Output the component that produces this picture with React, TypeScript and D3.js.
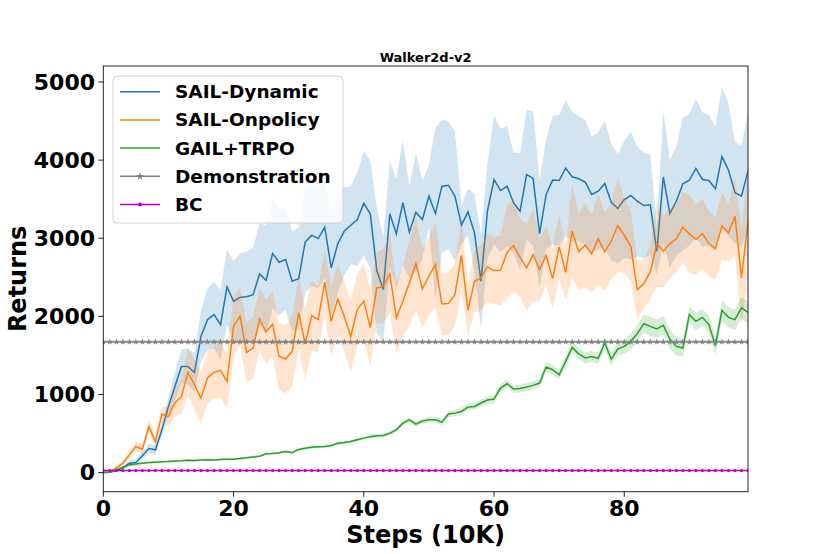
import React from 'react';
import * as d3 from 'd3';

// values (Walker2d-v2)
const blueMean = [
  0, 5, 26, 56, 120, 128, 214, 308, 291, 547, 846, 1103, 1359, 1359, 1282, 1744, 1958, 2022, 1894, 2377,
  2192, 2244, 2250, 2278, 2543, 2462, 2804, 2692, 2727, 2449, 2483, 2949, 3039, 2996, 3141, 2620, 2928, 3090, 3167, 3240,
  3445, 3313, 2586, 2342, 3313, 3056, 3454, 3077, 3333, 3240, 3538, 3316, 3667, 3679, 3538, 3167, 3338, 3069, 2449, 3355,
  3752, 3611, 3667, 3454, 3345, 3817, 3765, 3060, 3560, 3744, 3739, 3897, 3787, 3761, 3718, 3560, 3603, 3701, 3462, 3381,
  3496, 3547, 3474, 3419, 3428, 2833, 3787, 3316, 3474, 3697, 3744, 3893, 3752, 3739, 3633, 4044, 3872, 3582, 3538, 3859,
];
const blueStd = [
  0, 10, 15, 25, 35, 40, 50, 60, 60, 80, 120, 180, 220, 230, 250, 330, 400, 420, 450, 480,
  520, 560, 580, 600, 650, 700, 700, 680, 650, 640, 650, 650, 650, 640, 650, 600, 630, 560, 500, 600,
  670, 690, 800, 680, 675, 700, 800, 590, 760, 500, 400, 1100, 850, 820, 830, 250, 300, 500, 600, 610,
  830, 790, 770, 640, 750, 830, 860, 690, 700, 820, 840, 870, 830, 800, 800, 740, 750, 810, 750, 700,
  750, 820, 700, 680, 640, 300, 850, 690, 700, 850, 840, 890, 860, 840, 790, 900, 850, 650, 650, 750,
];
const orangeMean = [
  0, 8, 60, 120, 226, 333, 300, 590, 397, 748, 718, 890, 975, 1282, 1124, 953, 1210, 1282, 1308, 1167,
  1872, 2000, 1538, 1594, 1966, 1800, 1900, 1487, 1453, 1552, 2044, 1650, 2009, 1958, 2438, 1936, 2220, 2000, 1740, 2086,
  2195, 1855, 2364, 2385, 2544, 1979, 2195, 2428, 2674, 2355, 2513, 2663, 2159, 2163, 2278, 2782, 2077, 2449, 2492, 2633,
  2586, 2590, 2821, 2906, 2756, 2620, 2791, 2600, 2778, 2483, 2890, 2564, 3090, 2826, 2911, 2800, 2992, 2826, 2962, 3163,
  3038, 2897, 2342, 2419, 2569, 2928, 2833, 2932, 2992, 3141, 3056, 2983, 3060, 2932, 2868, 3154, 3069, 3282, 2492, 3218,
];
const orangeStd = [
  0, 10, 20, 30, 50, 60, 70, 80, 80, 100, 120, 180, 220, 300, 320, 330, 330, 340, 350, 360,
  380, 380, 380, 390, 400, 410, 420, 430, 440, 450, 460, 460, 450, 420, 420, 450, 450, 450, 450, 460,
  480, 500, 450, 480, 500, 450, 450, 550, 600, 500, 500, 550, 400, 400, 400, 450, 330, 400, 420, 430,
  430, 450, 600, 600, 500, 550, 600, 400, 380, 390, 400, 350, 600, 480, 540, 500, 580, 500, 490, 600,
  480, 450, 380, 310, 350, 550, 460, 450, 430, 450, 500, 450, 450, 420, 400, 430, 370, 500, 620, 700,
];
const greenMean = [
  0, 5, 35, 70, 100, 110, 120, 128, 133, 138, 142, 148, 150, 158, 155, 160, 163, 160, 168, 170,
  172, 180, 190, 200, 210, 240, 245, 255, 268, 255, 295, 310, 325, 330, 335, 345, 375, 385, 397, 420,
  441, 460, 470, 475, 505, 547, 633, 676, 620, 660, 676, 676, 646, 749, 761, 782, 838, 846, 890, 928,
  941, 1082, 1137, 1069, 1075, 1095, 1116, 1146, 1351, 1317, 1252, 1423, 1603, 1520, 1468, 1485, 1462, 1659, 1453, 1582,
  1615, 1680, 1778, 1906, 1872, 1838, 1885, 1710, 1615, 1595, 2022, 1936, 1987, 1894, 1624, 2077, 1987, 1958, 2108, 2051,
];
const greenStd = [
  0, 5, 10, 15, 15, 15, 15, 15, 15, 15, 15, 15, 15, 15, 15, 15, 15, 15, 15, 15,
  15, 15, 15, 15, 15, 15, 15, 15, 15, 15, 15, 20, 20, 20, 20, 20, 20, 20, 20, 20,
  20, 25, 25, 25, 25, 30, 30, 30, 35, 35, 35, 35, 40, 40, 40, 40, 40, 40, 45, 45,
  50, 50, 50, 50, 50, 50, 50, 50, 60, 60, 60, 70, 70, 70, 70, 70, 70, 80, 80, 80,
  90, 100, 110, 120, 120, 120, 120, 120, 120, 110, 100, 110, 110, 110, 120, 130, 130, 130, 140, 140,
];
const demoReturn = 1672;
const bcReturn = 26;

const xTicks = [0, 20, 40, 60, 80];
const yTicks = [0, 1000, 2000, 3000, 4000, 5000];

const W = 830;
const H = 554;
const left = 103.3, right = 748, top = 66, bottom = 491.7;
const font = "'DejaVu Sans', sans-serif";

const series = [
  { name: 'SAIL-Dynamic', mean: blueMean, std: blueStd, color: '#1f77b4' },
  { name: 'SAIL-Onpolicy', mean: orangeMean, std: orangeStd, color: '#ff7f0e' },
  { name: 'GAIL+TRPO', mean: greenMean, std: greenStd, color: '#2ca02c' },
];

export default function App() {
  const steps = blueMean.map((_, i) => i);
  const x = d3.scaleLinear().domain([0, 99]).range([left, right]);
  const y = d3.scaleLinear().domain([-245, 5205]).range([bottom, top]);

  const line = d3.line<number>().x((_, i) => x(i)).y(d => y(d));
  const star = d3.symbol().type(d3.symbolStar).size(14)() as string;
  const legendStar = d3.symbol().type(d3.symbolStar).size(20)() as string;

  const legendItems = [
    ...series.map(s => ({ name: s.name, color: s.color, marker: '' })),
    { name: 'Demonstration', color: '#808080', marker: 'star' },
    { name: 'BC', color: '#bf00bf', marker: 'dot' },
  ];

  return (
    <svg width={W} height={H} style={{ position: 'absolute', left: 0, top: 0, background: '#fff' }}>
      <defs>
        <clipPath id="plot">
          <rect x={left} y={top} width={right - left} height={bottom - top} />
        </clipPath>
      </defs>

      <g clipPath="url(#plot)">
        {series.map(s => {
          const area = d3.area<number>()
            .x((_, i) => x(i))
            .y0((d, i) => y(d - s.std[i]))
            .y1((d, i) => y(d + s.std[i]));
          return (
            <g key={s.name}>
              <path d={area(s.mean) || ''} fill={s.color} fillOpacity={0.2} stroke="none" />
              <path d={line(s.mean) || ''} fill="none" stroke={s.color} strokeWidth={1.5} />
            </g>
          );
        })}

        <line x1={x(0)} x2={x(99)} y1={y(demoReturn)} y2={y(demoReturn)} stroke="#808080" strokeWidth={1.5} />
        {steps.map(i => (
          <path key={'d' + i} d={star} transform={`translate(${x(i)},${y(demoReturn)})`} fill="#808080" />
        ))}

        <line x1={x(0)} x2={x(99)} y1={y(bcReturn)} y2={y(bcReturn)} stroke="#bf00bf" strokeWidth={1.5} />
        {steps.map(i => (
          <circle key={'b' + i} cx={x(i)} cy={y(bcReturn)} r={1.6} fill="#bf00bf" />
        ))}
      </g>

      {/* frame */}
      <rect x={left} y={top} width={right - left} height={bottom - top} fill="none" stroke="#222" strokeWidth={1} />

      {/* x axis */}
      {xTicks.map(t => (
        <g key={'xt' + t}>
          <line x1={x(t)} x2={x(t)} y1={bottom} y2={bottom + 5} stroke="#222" />
          <text x={x(t)} y={516} textAnchor="middle" fontFamily={font} fontWeight="bold" fontSize={22}>{t}</text>
        </g>
      ))}
      {/* y axis */}
      {yTicks.map(t => (
        <g key={'yt' + t}>
          <line x1={left - 5} x2={left} y1={y(t)} y2={y(t)} stroke="#222" />
          <text x={95} y={y(t)} textAnchor="end" dominantBaseline="central" fontFamily={font} fontWeight="bold" fontSize={22}>{t}</text>
        </g>
      ))}

      <text x={(left + right) / 2} y={61.5} textAnchor="middle" fontFamily={font} fontWeight="bold" fontSize={13}>Walker2d-v2</text>
      <text x={(left + right) / 2} y={543} textAnchor="middle" fontFamily={font} fontWeight="bold" fontSize={24}>Steps (10K)</text>
      <text transform={`translate(18,${(top + bottom) / 2}) rotate(-90)`} textAnchor="middle" dominantBaseline="central"
        fontFamily={font} fontWeight="bold" fontSize={24}>Returns</text>

      {/* legend */}
      <g>
        <rect x={113} y={76} width={230} height={147} rx={4} fill="#fff" fillOpacity={0.8} stroke="#d0d0d0" />
        {legendItems.map((it, k) => {
          const ly = 91.7 + k * 28.2;
          return (
            <g key={it.name}>
              <line x1={120} x2={160} y1={ly} y2={ly} stroke={it.color} strokeWidth={1.5} />
              {it.marker === 'star' && <path d={legendStar} transform={`translate(140,${ly})`} fill={it.color} />}
              {it.marker === 'dot' && <circle cx={140} cy={ly} r={2} fill={it.color} />}
              <text x={175} y={ly} dominantBaseline="central" fontFamily={font} fontWeight="bold" fontSize={18.5}>{it.name}</text>
            </g>
          );
        })}
      </g>
    </svg>
  );
}
